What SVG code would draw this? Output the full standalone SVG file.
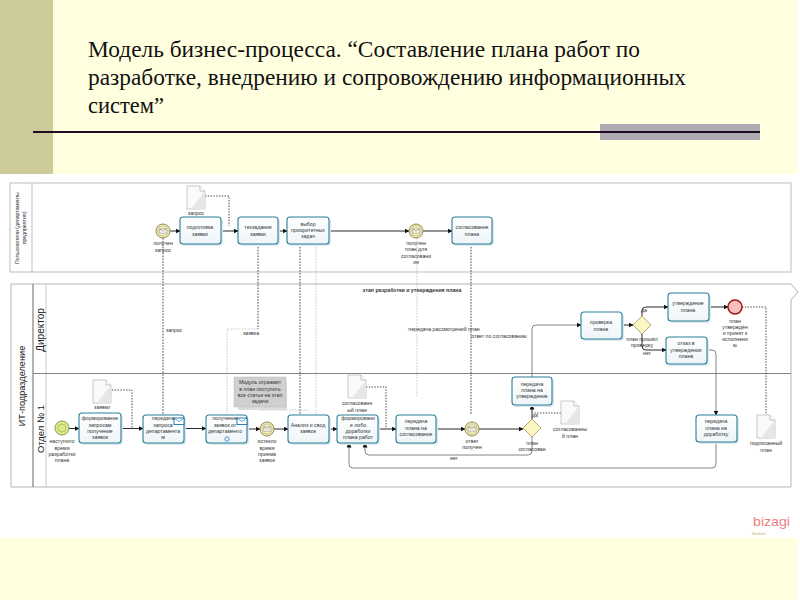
<svg xmlns="http://www.w3.org/2000/svg" width="800" height="600" viewBox="0 0 800 600">
<style>
.t{font-family:"Liberation Sans",Arial,sans-serif;font-size:5.2px;fill:#333;text-anchor:middle}
.title{font-family:"Liberation Serif","Times New Roman",serif;font-size:22.5px;fill:#111}
.lane{font-family:"Liberation Sans",Arial,sans-serif;fill:#222;text-anchor:middle}
.task{fill:url(#tg);stroke:#2a7f98;stroke-width:1.1}
.shadow{fill:#dde9ef}
.flow{fill:none;stroke:#2a2a2a;stroke-width:1;marker-end:url(#arr)}
.flowg{fill:none;stroke:#777;stroke-width:.9;marker-end:url(#arr)}
.msg{fill:none;stroke:#333;stroke-width:.9;stroke-dasharray:1.6 1.3}
.msgl{fill:none;stroke:#bbb;stroke-width:.8;stroke-dasharray:1.6 1.3}
.assoc{fill:none;stroke:#333;stroke-width:.9;stroke-dasharray:1.4 1.4}
.pool{fill:none;stroke:#bdbdbd;stroke-width:1}
</style>
<defs>
<linearGradient id="tg" x1="0" y1="0" x2="0" y2="1"><stop offset="0" stop-color="#ffffff"/><stop offset="1" stop-color="#eef5f8"/></linearGradient>
<marker id="arr" markerWidth="5" markerHeight="5" refX="4.5" refY="2.5" orient="auto" markerUnits="userSpaceOnUse"><path d="M0 0L5 2.5L0 5z" fill="#111"/></marker>
<g id="doc"><path d="M0 0H13L18 5V23H0z" fill="#fafafa" stroke="#bdbdbd" stroke-width=".8"/><path d="M18 5V23H4z" fill="#e6e6e6"/><path d="M13 0V5H18" fill="#fff" stroke="#aaa" stroke-width=".7"/></g>
<g id="ev"><circle r="7" fill="#f3eeb0" stroke="#8f8a5a" stroke-width="1"/><circle r="5" fill="#f8f4c8" stroke="#a5a070" stroke-width=".6"/><path d="M-3.2 -2.2H3.2V2.2H-3.2zM-3.2 -2.2L0 .4L3.2 -2.2" fill="#fff" stroke="#777" stroke-width=".5"/></g>
<g id="gw"><path d="M0 -9L9 0L0 9L-9 0z" fill="#fbf6c4" stroke="#b3ac6c" stroke-width="1"/></g>
<g id="mi"><rect width="10" height="6.5" fill="#fff" stroke="#2a80b8" stroke-width="1"/><path d="M0 0L5 3.5L10 0" fill="none" stroke="#2a80b8" stroke-width=".7"/></g>
</defs>

<g id="background">
<rect width="800" height="600" fill="#fff"/>
<rect width="797" height="174" fill="#ffffdf"/>
<rect y="538" width="797" height="62" fill="#ffffdf"/>
<rect width="53" height="174" fill="#cdcb98"/>
<rect x="600" y="124" width="160" height="16" fill="#aeaab2"/>
<rect x="33" y="131" width="727" height="2" fill="#200a22"/>
</g>
<g id="title">
<text class="title" x="88" y="57" textLength="552" lengthAdjust="spacingAndGlyphs">Модель бизнес-процесса. “Составление плана работ по</text>
<text class="title" x="88" y="85" textLength="598" lengthAdjust="spacingAndGlyphs">разработке, внедрению и сопровождению информационных</text>
<text class="title" x="88" y="113" textLength="76" lengthAdjust="spacingAndGlyphs">систем”</text>
</g>

<g id="pools">
<rect class="pool" x="10" y="183" width="781" height="89"/>
<path class="pool" d="M32 183V272" stroke="#ddd"/>
<path d="M11 284H791L798 292L791 300V487H11z" fill="none" stroke="#b5b5b5" stroke-width="1"/>
<path d="M33 284V487" stroke="#666" stroke-width="1"/>
<path d="M46 284V487" stroke="#ccc" stroke-width="1"/>
<path d="M33 373.500H791" stroke="#777" stroke-width=".9"/>
<text class="t" transform="translate(19,228) rotate(-90)">Пользователи (департаменты</text>
<text class="t" transform="translate(26,228) rotate(-90)">предприятия)</text>
<text class="lane" font-size="9.200" transform="translate(25,386) rotate(-90)">ИТ-подразделение</text>
<text class="lane" font-size="10" transform="translate(44,330) rotate(-90)">Директор</text>
<text class="lane" font-size="9.500" transform="translate(44,429) rotate(-90)">Отдел № 1</text>
<text class="t" x="412" y="292" font-weight="bold">этап разработки и утверждения плана</text>
</g>

<g id="connectors">
<path class="flow" d="M170 231H180"/><path class="flow" d="M220 231H238"/><path class="flow" d="M278 231H287"/>
<path class="flow" d="M329 231H409"/><path class="flow" d="M423 231H452"/>
<path class="flow" d="M69 428.500H79"/><path class="flow" d="M121 428.500H143"/><path class="flow" d="M184 428.500H206"/>
<path class="flow" d="M247 429H260"/><path class="flow" d="M274 429H288"/><path class="flow" d="M329 429H337"/>
<path class="flow" d="M378 429H396"/><path class="flow" d="M436 429H465"/><path class="flow" d="M479 429H523"/>
<path class="flow" d="M532 419V405"/>
<path class="flowg" d="M532 377V329Q532 325 536 325H581"/>
<path class="flow" d="M622 325H633"/>
<path class="flow" d="M642 316V311Q642 307 646 307H668"/>
<path class="flow" d="M642 334V346Q642 350 646 350H666"/>
<path class="flow" d="M708 307H728"/>
<path class="flowg" d="M707 350H712Q716 350 716 354V415"/>
<path class="flowg" d="M716 442V464Q716 468 712 468H353Q349 468 349 464V443"/>
<path class="flowg" d="M532 437V451Q532 455 528 455H369Q365 455 365 451V443"/>
<path class="assoc" d="M205 196H229V226"/>
<path class="assoc" d="M112 390H132V428"/>
<path class="assoc" d="M366 387H386V428"/>
<path class="assoc" d="M561 413H534"/>
<path class="assoc" d="M742 307H766V415"/>
<path class="msg" d="M163 238V415"/>
<path class="msg" d="M258 244V329"/>
<path class="msgl" d="M258 329H227V415"/>
<path class="msg" d="M300 244V415"/>
<path class="msgl" d="M316 244V415"/>
<path class="msgl" d="M417 238V396"/>
<path class="msg" d="M471 244V415"/>
<path class="msgl" d="M260 410H310"/>
<text class="t" x="174" y="332">запрос</text>
<text class="t" x="251" y="335">заявка</text>
<text class="t" x="444" y="331">передача рассмотрений план</text>
<text class="t" x="499" y="338">ответ по согласованию</text>
<text class="t" x="454" y="460">нет</text>
<text class="t" x="644" y="312">да</text>
<text class="t" x="535" y="417">да</text>
</g>

<g id="doc-zapros"><use href="#doc" x="187" y="186"/><text class="t" x="196" y="215">запрос</text></g>
<g id="ev-request"><use href="#ev" x="163" y="231"/><text class="t" x="163" y="245">получен</text><text class="t" x="163" y="252">запрос</text></g>
<g id="t-prepare"><rect class="shadow" x="182" y="219" width="41" height="27" rx="3"/><rect class="task" x="180" y="217" width="41" height="27" rx="3"/><text class="t" x="200" y="229">подготовка</text><text class="t" x="200" y="236">заявки</text></g>
<g id="t-tz"><rect class="shadow" x="240" y="219" width="40" height="27" rx="3"/><rect class="task" x="238" y="217" width="40" height="27" rx="3"/><text class="t" x="258" y="229">техзадания</text><text class="t" x="258" y="236">заявки</text></g>
<g id="t-select"><rect class="shadow" x="289" y="219" width="42" height="27" rx="3"/><rect class="task" x="287" y="217" width="42" height="27" rx="3"/><text class="t" x="308" y="226">выбор</text><text class="t" x="308" y="232">приоритетных</text><text class="t" x="308" y="238">задач</text></g>
<g id="ev-plan"><use href="#ev" x="416" y="231"/><text class="t" x="416" y="245">получен</text><text class="t" x="416" y="251">план для</text><text class="t" x="416" y="258">согласовани</text><text class="t" x="416" y="264">ия</text></g>
<g id="t-agree"><rect class="shadow" x="454" y="219" width="40" height="27" rx="3"/><rect class="task" x="452" y="217" width="40" height="27" rx="3"/><text class="t" x="472" y="229">согласование</text><text class="t" x="472" y="236">плана</text></g>

<g id="ev-start"><circle cx="62" cy="428" r="7" fill="#d8ea8c" stroke="#8aa04a"/><circle cx="62" cy="428" r="4" fill="none" stroke="#9ab04a" stroke-width=".6"/><text class="t" x="62" y="443">наступило</text><text class="t" x="62" y="450">время</text><text class="t" x="62" y="456">разработки</text><text class="t" x="62" y="462">плана</text></g>
<g id="doc-zayavki"><use href="#doc" x="93" y="380"/><text class="t" x="102" y="409">заявки</text></g>
<g id="t-form"><rect class="shadow" x="81" y="415" width="42" height="30" rx="3"/><rect class="task" x="79" y="413" width="42" height="30" rx="3"/><text class="t" x="100" y="420">формирование</text><text class="t" x="100" y="427">запросам</text><text class="t" x="100" y="433">получение</text><text class="t" x="100" y="439">заявок</text></g>
<g id="t-send"><rect class="shadow" x="145" y="417" width="41" height="28" rx="3"/><rect class="task" x="143" y="415" width="41" height="28" rx="3"/><use href="#mi" x="174" y="418"/><text class="t" x="163" y="420">передача</text><text class="t" x="163" y="427">запроса</text><text class="t" x="163" y="433">департамента</text><text class="t" x="163" y="439">м</text></g>
<g id="t-receive"><rect class="shadow" x="208" y="417" width="41" height="28" rx="3"/><rect class="task" x="206" y="415" width="41" height="28" rx="3"/><use href="#mi" x="237" y="418"/><text class="t" x="225" y="420">получение</text><text class="t" x="225" y="427">заявок от</text><text class="t" x="225" y="433">департаменто</text><circle cx="227" cy="439" r="2.200" fill="none" stroke="#2a80b8" stroke-width=".8"/></g>
<g id="note"><rect x="238" y="381" width="49" height="29" fill="#dcdcdc"/><rect x="234" y="377" width="52" height="30" fill="#cfcfcf" stroke="#bbb" stroke-width=".5"/><text class="t" x="260" y="384">Модуль отражает</text><text class="t" x="260" y="391">в план поступить</text><text class="t" x="260" y="397">все статьи на этап</text><text class="t" x="260" y="403">задачи</text></g>
<g id="ev-timer"><use href="#ev" x="267" y="429"/><text class="t" x="267" y="443">истекло</text><text class="t" x="267" y="450">время</text><text class="t" x="267" y="456">приема</text><text class="t" x="267" y="462">заявок</text></g>
<g id="t-analysis"><rect class="shadow" x="290" y="417" width="41" height="28" rx="3"/><rect class="task" x="288" y="415" width="41" height="28" rx="3"/><text class="t" x="308" y="427">Анализ и свод</text><text class="t" x="308" y="433">заявок</text></g>
<g id="doc-new"><use href="#doc" x="348" y="375"/><text class="t" x="357" y="405">согласованн</text><text class="t" x="357" y="412">ый план</text></g>
<g id="t-formplan"><rect class="shadow" x="339" y="417" width="41" height="28" rx="3"/><rect class="task" x="337" y="415" width="41" height="28" rx="3"/><text class="t" x="358" y="420">формировани</text><text class="t" x="358" y="427">е либо</text><text class="t" x="358" y="433">доработки</text><text class="t" x="358" y="439">плана работ</text></g>
<g id="t-sendplan"><rect class="shadow" x="398" y="417" width="40" height="28" rx="3"/><rect class="task" x="396" y="415" width="40" height="28" rx="3"/><text class="t" x="416" y="423">передача</text><text class="t" x="416" y="430">плана на</text><text class="t" x="416" y="436">согласование</text></g>
<g id="ev-answer"><use href="#ev" x="472" y="429"/><text class="t" x="472" y="443">ответ</text><text class="t" x="472" y="449">получен</text></g>
<g id="gw-agreed"><use href="#gw" x="532" y="428"/><text class="t" x="532" y="445">план</text><text class="t" x="532" y="451">согласован</text></g>
<g id="t-toapprove"><rect class="shadow" x="514" y="379" width="40" height="28" rx="3"/><rect class="task" x="512" y="377" width="40" height="28" rx="3"/><text class="t" x="532" y="386">передача</text><text class="t" x="532" y="392">плана на</text><text class="t" x="532" y="398">утверждение</text></g>
<g id="doc-agreed"><use href="#doc" x="561" y="401"/><text class="t" x="570" y="431">согласованны</text><text class="t" x="570" y="438">й план</text></g>
<g id="t-check"><rect class="shadow" x="583" y="314" width="41" height="27" rx="3"/><rect class="task" x="581" y="312" width="41" height="27" rx="3"/><text class="t" x="601" y="324">проверка</text><text class="t" x="601" y="331">плана</text></g>
<g id="gw-check"><use href="#gw" x="642" y="325"/><text class="t" x="642" y="341">план прошёл</text><text class="t" x="642" y="347">проверку</text><text class="t" x="647" y="355">нет</text></g>
<g id="t-approve"><rect class="shadow" x="670" y="295" width="41" height="28" rx="3"/><rect class="task" x="668" y="293" width="41" height="28" rx="3"/><text class="t" x="688" y="305">утверждение</text><text class="t" x="688" y="312">плана</text></g>
<g id="t-refuse"><rect class="shadow" x="668" y="339" width="41" height="27" rx="3"/><rect class="task" x="666" y="337" width="41" height="27" rx="3"/><text class="t" x="686" y="345">отказ в</text><text class="t" x="686" y="352">утверждении</text><text class="t" x="686" y="358">плана</text></g>
<g id="ev-end"><circle cx="735" cy="307" r="7" fill="#f7c0bc" stroke="#a01818" stroke-width="1.500"/><text class="t" x="735" y="323">план</text><text class="t" x="735" y="329">утверждён</text><text class="t" x="735" y="335">и принят к</text><text class="t" x="735" y="341">исполнени</text><text class="t" x="735" y="347">ю</text></g>
<g id="t-rework"><rect class="shadow" x="698" y="417" width="41" height="27" rx="3"/><rect class="task" x="696" y="415" width="41" height="27" rx="3"/><text class="t" x="716" y="423">передача</text><text class="t" x="716" y="430">плана на</text><text class="t" x="716" y="436">доработку</text></g>
<g id="doc-signed"><use href="#doc" x="757" y="415"/><text class="t" x="766" y="445">подписанный</text><text class="t" x="766" y="452">план</text></g>
<g id="logo"><text x="753" y="526" font-family="'Liberation Sans',Arial,sans-serif" font-size="13" fill="#e88080" textLength="37" lengthAdjust="spacingAndGlyphs">bizagi</text><text x="752" y="534.500" font-family="'Liberation Sans',Arial,sans-serif" font-size="4" fill="#c8b878">Modeler</text></g>
</svg>
